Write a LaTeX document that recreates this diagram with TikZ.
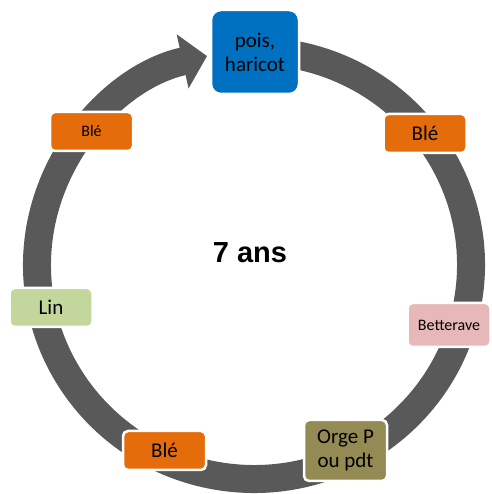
\documentclass[tikz,border=0pt]{standalone}
\usepackage{fontspec}
\setmainfont{Carlito}
\newfontfamily\titlefont{Liberation Sans}
\usetikzlibrary{arrows.meta,positioning}
\definecolor{ringgray}{RGB}{89,89,89}
\definecolor{cropblue}{RGB}{0,112,192}
\definecolor{croporange}{RGB}{228,108,10}
\definecolor{cropgreen}{RGB}{195,214,155}
\definecolor{croppink}{RGB}{230,185,184}
\definecolor{cropolive}{RGB}{148,138,84}
\begin{document}
\begin{tikzpicture}[x=1pt, y=1pt,
  crop/.style={draw=white, line width=2.5pt, rounded corners=5pt, minimum width=83pt, minimum height=39pt, align=center, inner sep=1pt, font=\fontsize{21}{24}\selectfont},
  small/.style={font=\fontsize{16}{19}\selectfont},
  ring/.style={ringgray, line width=28pt, -{Triangle[length=25pt, width=54pt]}}
]
\useasboundingbox (0,0) rectangle (491,494);
\coordinate (c) at (254,229);
% rotation ring
\draw[ring] ([shift={(80:217 and 214)}]c) arc[start angle=80, end angle=-257.5, x radius=217, y radius=214];
\node[crop, fill=cropblue, minimum width=88pt, minimum height=84pt, rounded corners=10pt] (pois) at (255,442) {pois,\\haricot};
\node[crop, fill=croporange] (ble1) at (425,360.5) {Blé};
\node[crop, small, fill=croppink, minimum height=44pt] (bett) at (449,169) {Betterave};
\node[crop, fill=cropolive, minimum height=61pt] (orge) at (345.5,43.5) {Orge P\\ou pdt};
\node[crop, fill=croporange] (ble2) at (164.5,43.5) {Blé};
\node[crop, fill=cropgreen] (lin) at (51,186.5) {Lin};
\node[crop, small, fill=croporange] (ble3) at (91.5,362.5) {Blé};
\node[font=\titlefont\bfseries\fontsize{29}{34}\selectfont] (ans) at (250,241) {7 ans};
\end{tikzpicture}
\end{document}
